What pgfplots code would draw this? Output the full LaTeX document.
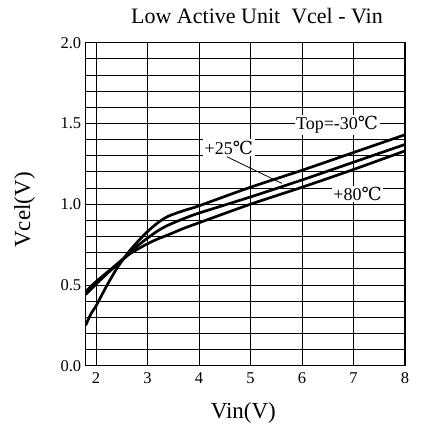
\documentclass[border=0pt]{standalone}
\usepackage{pgfplots}
\pgfplotsset{compat=1.18}
\usepackage{fontspec}
\setmainfont{Liberation Serif}
\newfontfamily\symfont{DejaVu Serif}
\newcommand{\dc}{{\symfont ℃}}
\begin{document}
\begin{tikzpicture}
\useasboundingbox (-85.7pt,-62.3pt) rectangle (334.3pt,365.7pt);
\begin{axis}[
  at={(0,0)}, anchor=south west, scale only axis,
  width=319.3pt, height=323pt,
  xmin=1.8, xmax=8, ymin=0, ymax=2,
  xtick={2,3,4,5,6,7,8}, ytick={0,0.5,1,1.5,2},
  minor ytick={0.1,0.2,0.3,0.4,0.6,0.7,0.8,0.9,1.1,1.2,1.3,1.4,1.6,1.7,1.8,1.9},
  grid=both,
  major grid style={black, line width=0.8pt},
  minor grid style={black, line width=0.8pt},
  axis line style={black, line width=1.2pt},
  major tick length=0pt, minor tick length=0pt,
  xticklabel={\mbox{\fontsize{16.5}{19}\selectfont\pgfmathprintnumber[assume math mode=true]{\tick}}},
  yticklabel={\mbox{\fontsize{16.5}{19}\selectfont\pgfmathprintnumber[assume math mode=true,fixed,fixed zerofill,precision=1]{\tick}}},
  xticklabel style={yshift=-3pt},
  yticklabel style={xshift=-1pt},
]
\addplot[black, line width=2.7pt, smooth, tension=0.5] coordinates {
 (1.8,0.25) (1.9,0.32) (2.0,0.37) (2.2,0.49) (2.4,0.60) (2.6,0.69) (2.8,0.765)
 (3.0,0.83) (3.2,0.885) (3.4,0.925) (3.7,0.96) (4.0,0.99) (5,1.105) (6,1.21) (7,1.32) (8,1.43)};
\addplot[black, line width=2.7pt, smooth, tension=0.5] coordinates {
 (1.8,0.44) (2.0,0.505) (2.3,0.595) (2.6,0.68) (2.8,0.74) (3.0,0.79) (3.2,0.835)
 (3.4,0.87) (3.7,0.91) (4.0,0.945) (5,1.045) (6,1.15) (7,1.26) (8,1.37)};
\addplot[black, line width=2.7pt, smooth, tension=0.5] coordinates {
 (1.8,0.46) (2.0,0.52) (2.3,0.60) (2.6,0.68) (2.8,0.72) (3.0,0.755) (3.2,0.785)
 (3.4,0.81) (3.7,0.85) (4.0,0.885) (5,1.0) (6,1.105) (7,1.215) (8,1.33)};
\draw[black, line width=0.8pt] (axis cs:4.54,1.294) -- (axis cs:5.61,1.129);
\node[fill=white, inner sep=1.5pt, font=\fontsize{18}{20}\selectfont] at (axis cs:6.68,1.49) {Top=-30\dc};
\node[fill=white, inner sep=1.5pt, font=\fontsize{18}{20}\selectfont] at (axis cs:4.58,1.35) {+25\dc};
\node[fill=white, inner sep=1.5pt, font=\fontsize{18}{20}\selectfont] at (axis cs:7.08,1.063) {+80\dc};
\end{axis}
\node[anchor=base, font=\fontsize{22}{24}\selectfont] at (171.3pt,341.7pt) {Low Active Unit\ \ Vcel - Vin};
\node[rotate=90, font=\fontsize{23}{26}\selectfont] at (-61pt,155.7pt) {Vcel(V)};
\node[anchor=base, font=\fontsize{23}{26}\selectfont] at (157.6pt,-52.6pt) {Vin(V)};
\end{tikzpicture}
\end{document}
